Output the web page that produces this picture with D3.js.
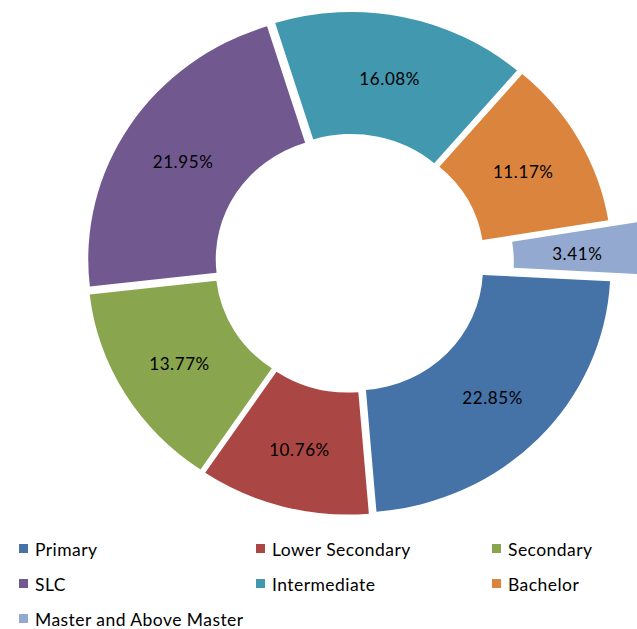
<!DOCTYPE html>
<html>
<head>
<meta charset="utf-8">
<script src="https://cdn.jsdelivr.net/npm/d3@7"></script>
<style>
  html, body { margin: 0; padding: 0; background: #fff; }
  svg { display: block; }
</style>
</head>
<body>
<svg id="chart" width="637" height="629"></svg>
<script>
// Education level shares (percent)
const categories = ["Primary", "Lower Secondary", "Secondary", "SLC", "Intermediate", "Bachelor", "Master and Above Master"];
const shares = [22.85, 10.76, 13.77, 21.95, 16.08, 11.17, 3.41];
const sliceColors = ["#4572A7", "#AA4643", "#89A54E", "#71588F", "#4198AF", "#DB843D", "#93A9CF"];

const W = 637, H = 629;
const cx = 349.8, cy = 263.3;
const stretchX = 1.045;          // ring is drawn slightly wider than tall
const outerR = 244, innerR = 122;
const explode = 7.5;             // every slice is pulled out a little
const explodeFar = 35;           // the smallest slice is pulled out further
const farSlice = "Master and Above Master";
const firstAngle = 93 * Math.PI / 180;

const svg = d3.select("#chart");

const data = categories.map((c, i) => ({ name: c, value: shares[i] }));

const pie = d3.pie()
  .value(d => d.value)
  .sort(null)
  .startAngle(firstAngle)
  .endAngle(firstAngle + 2 * Math.PI);

const arc = d3.arc().innerRadius(innerR).outerRadius(outerR);
const color = d3.scaleOrdinal().domain(categories).range(sliceColors);
const fmt = d3.format(".2f");

const arcs = pie(data);

const ring = svg.append("g")
  .attr("transform", `translate(${cx},${cy}) scale(${stretchX},1)`);

function offsetOf(a) {
  const mid = (a.startAngle + a.endAngle) / 2;
  const dist = a.data.name === farSlice ? explodeFar : explode;
  return [dist * Math.sin(mid), -dist * Math.cos(mid)];
}

ring.selectAll("path")
  .data(arcs)
  .join("path")
  .attr("d", arc)
  .attr("fill", d => color(d.data.name))
  .attr("transform", d => {
    const [ox, oy] = offsetOf(d);
    return `translate(${ox},${oy})`;
  });

// Value labels at the middle of each ring segment
svg.append("g")
  .selectAll("text")
  .data(arcs)
  .join("text")
  .attr("x", d => {
    const [c0] = arc.centroid(d);
    const [ox] = offsetOf(d);
    return cx + stretchX * (c0 + ox);
  })
  .attr("y", d => {
    const c1 = arc.centroid(d)[1];
    const oy = offsetOf(d)[1];
    return cy + c1 + oy + 2;
  })
  .attr("text-anchor", "middle")
  .attr("dominant-baseline", "central")
  .attr("font-family", "Lato, 'Open Sans', sans-serif")
  .attr("font-size", 17)
  .attr("letter-spacing", 0.6)
  .attr("fill", "#000")
  .text(d => fmt(d.data.value) + "%");

// Legend: three columns
const legendCols = [19, 256, 492];
const legendRows = [549, 584, 619];
const legend = svg.append("g");
const items = legend.selectAll("g")
  .data(categories)
  .join("g")
  .attr("transform", (d, i) => `translate(${legendCols[i % 3]},${legendRows[Math.floor(i / 3)]})`);

items.append("rect")
  .attr("x", 0)
  .attr("y", -5)
  .attr("width", 9)
  .attr("height", 9)
  .attr("fill", d => color(d));

items.append("text")
  .attr("x", 16)
  .attr("y", 0)
  .attr("dominant-baseline", "central")
  .attr("font-family", "Lato, 'Open Sans', sans-serif")
  .attr("font-size", 17.5)
  .attr("letter-spacing", 0.45)
  .attr("fill", "#000")
  .text(d => d);
</script>
</body>
</html>
